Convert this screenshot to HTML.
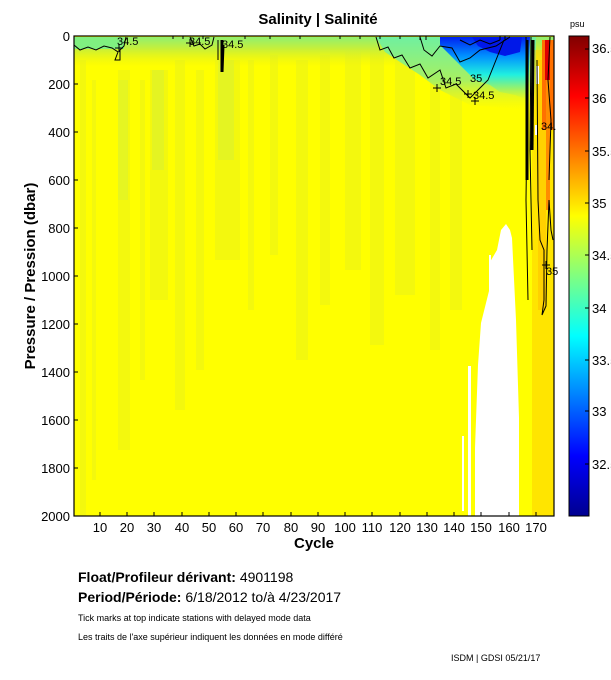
<!DOCTYPE html>
<html><head><meta charset="utf-8"><style>
body{margin:0;background:#fff;width:611px;height:675px;overflow:hidden;font-family:"Liberation Sans",sans-serif}
</style></head><body>
<svg width="611" height="675" xmlns="http://www.w3.org/2000/svg" font-family="Liberation Sans, sans-serif">
<defs>
<linearGradient id="jet" x1="0" y1="1" x2="0" y2="0">
<stop offset="0" stop-color="#00008f"/>
<stop offset="0.125" stop-color="#0000ff"/>
<stop offset="0.375" stop-color="#00ffff"/>
<stop offset="0.5" stop-color="#80ff80"/>
<stop offset="0.625" stop-color="#ffff00"/>
<stop offset="0.875" stop-color="#ff0000"/>
<stop offset="1" stop-color="#800000"/>
</linearGradient>
<linearGradient id="topg" x1="0" y1="0" x2="0" y2="1">
<stop offset="0" stop-color="#90f070"/>
<stop offset="0.4" stop-color="#c8f038"/>
<stop offset="1" stop-color="#f0f010" stop-opacity="0"/>
</linearGradient>
<linearGradient id="greeng" x1="0" y1="0" x2="0" y2="1">
<stop offset="0" stop-color="#70f0a0"/>
<stop offset="0.6" stop-color="#a8f060"/>
<stop offset="1" stop-color="#e8f020" stop-opacity="0"/>
</linearGradient>
<linearGradient id="blueg" x1="0" y1="0" x2="0" y2="1">
<stop offset="0" stop-color="#0020f0"/>
<stop offset="0.3" stop-color="#0090ff"/>
<stop offset="0.6" stop-color="#20f0e0"/>
<stop offset="1" stop-color="#90f070" stop-opacity="0"/>
</linearGradient>
</defs>
<text x="318" y="24" font-size="15" font-weight="bold" text-anchor="middle">Salinity | Salinité</text>
<rect x="74" y="36" width="480" height="480" fill="#ffff00"/>
<g fill="#e6f020" opacity="0.45">
<rect x="80" y="60" width="6" height="456"/><rect x="92" y="80" width="4" height="400"/>
<rect x="118" y="70" width="12" height="380"/><rect x="140" y="80" width="5" height="300"/>
<rect x="150" y="70" width="18" height="230"/><rect x="175" y="60" width="10" height="350"/>
<rect x="196" y="70" width="8" height="300"/><rect x="215" y="60" width="25" height="200"/>
<rect x="248" y="60" width="6" height="250"/><rect x="270" y="55" width="8" height="200"/>
<rect x="296" y="60" width="12" height="300"/><rect x="320" y="55" width="10" height="250"/>
<rect x="345" y="50" width="16" height="220"/><rect x="370" y="45" width="14" height="300"/>
<rect x="395" y="45" width="20" height="250"/><rect x="430" y="50" width="10" height="300"/>
<rect x="450" y="60" width="12" height="250"/>
</g>
<g fill="#d0f040" opacity="0.4">
<rect x="118" y="80" width="10" height="120"/><rect x="152" y="70" width="12" height="100"/>
<rect x="218" y="60" width="16" height="100"/>
</g>
<rect x="74" y="37" width="480" height="30" fill="url(#topg)"/>
<rect x="74" y="37" width="50" height="12" fill="#80f080"/>
<polygon fill="url(#greeng)" points="376,37 536,37 536,110 470,105 440,90 420,75 400,62 385,52"/>
<polygon fill="url(#blueg)" points="440,37 530,37 528,100 515,95 500,92 490,85 475,80 460,65 450,55 440,45"/>
<polygon fill="#0018e8" points="472,37 522,37 520,52 505,56 490,52 478,46"/>
<g fill="#ffcc00">
<rect x="532" y="50" width="22" height="466" opacity="0.5"/>
<rect x="538" y="60" width="8" height="250" opacity="0.8"/>
</g>
<rect x="542" y="40" width="12" height="90" fill="#ff7000"/>
<rect x="545" y="40" width="5" height="40" fill="#e00000"/>
<rect x="546" y="80" width="4" height="130" fill="#ff8c00"/>
<polygon fill="#fff" points="506,224 501,230 497,250 490,262 489,291 481,323 478,365 475,448 475,516 519,516 519,418 516,320 512,238 510,230"/>
<rect x="468" y="366" width="3" height="150" fill="#fff"/>
<rect x="462" y="436" width="2" height="75" fill="#fff"/>
<rect x="489" y="255" width="2" height="40" fill="#fff"/>
<rect x="536" y="66" width="3" height="18" fill="#fff"/>
<rect x="535" y="125" width="2" height="10" fill="#fff"/>
<g fill="none" stroke="#000" stroke-width="1">
<path d="M74,45 L80,50 88,47 96,50 104,46 112,48 118,52 115,60 120,60 120,50 124,46 126,37"/>
<path d="M190,37 L194,46 200,44 205,49 212,45 214,37"/>
<path d="M218,40 L218,60 M221,40 L221,67 M224,45 L223,72"/>
<path d="M376,37 L380,50 388,47 394,58 402,55 410,68 420,64 428,78 440,70 446,88 456,84 470,98 480,88 488,80 496,60 504,40"/>
<path d="M420,37 L424,50 432,56 440,46 452,48 460,62 470,58 480,50 496,46 510,37"/>
<path d="M460,40 L470,45 480,40 490,44 500,40"/>
<path d="M526,37 L527,120 526,200 528,300"/>
<path d="M531,37 L530,150 532,250"/>
<path d="M537,60 L538,200 540,240 544,250 544,300 542,315 546,306 547,250 549,200 551,230 553,240"/>
<path d="M550,37 L548,80 551,120 549,180"/>
</g>
<g stroke="#000" stroke-width="3"><line x1="222" y1="40" x2="222" y2="72"/><line x1="527" y1="40" x2="527" y2="180"/><line x1="533" y1="40" x2="532" y2="150"/></g>
<g font-size="11" fill="#000">
<text x="117" y="45">34.5</text><text x="189" y="45">34.5</text><text x="222" y="48">34.5</text>
<text x="440" y="85">34.5</text><text x="473" y="99">34.5</text><text x="470" y="82">35</text>
<text x="546" y="275">35</text><text x="541" y="130">34.</text>
</g>
<g stroke="#000"><path d="M433,88h8M437,84v8M464,94h8M468,90v8M471,101h8M475,97v8M115,48h8M119,44v8M186,43h8M190,39v8M542,265h8M546,261v8"/></g>
<g stroke="#000"><path d="M173,36v3M183,36v3M203,36v3M245,36v3M270,36v3M300,36v3M340,36v3M360,36v3M380,36v3M400,36v3M420,36v4M426,36v4M500,36v4M505,36v4"/></g>
<rect x="74" y="36" width="480" height="480" fill="none" stroke="#000" stroke-width="1.2"/>
<g font-size="13" text-anchor="end">
<text x="70" y="41">0</text><text x="70" y="89">200</text><text x="70" y="137">400</text><text x="70" y="185">600</text><text x="70" y="233">800</text><text x="70" y="281">1000</text><text x="70" y="329">1200</text><text x="70" y="377">1400</text><text x="70" y="425">1600</text><text x="70" y="473">1800</text><text x="70" y="521">2000</text>
</g>
<g stroke="#000"><path d="M74,84h4M74,132h4M74,180h4M74,228h4M74,276h4M74,324h4M74,372h4M74,420h4M74,468h4"/>
<path d="M100,516v-4M127,516v-4M154,516v-4M182,516v-4M209,516v-4M236,516v-4M263,516v-4M291,516v-4M318,516v-4M345,516v-4M372,516v-4M400,516v-4M427,516v-4M454,516v-4M481,516v-4M509,516v-4M536,516v-4"/></g>
<g font-size="13" text-anchor="middle">
<text x="100" y="532">10</text><text x="127" y="532">20</text><text x="154" y="532">30</text><text x="182" y="532">40</text><text x="209" y="532">50</text><text x="236" y="532">60</text><text x="263" y="532">70</text><text x="291" y="532">80</text><text x="318" y="532">90</text><text x="345" y="532">100</text><text x="372" y="532">110</text><text x="400" y="532">120</text><text x="427" y="532">130</text><text x="454" y="532">140</text><text x="481" y="532">150</text><text x="509" y="532">160</text><text x="536" y="532">170</text>
</g>
<text x="314" y="548" font-size="15" font-weight="bold" text-anchor="middle">Cycle</text>
<text transform="translate(35,276) rotate(-90)" font-size="15" font-weight="bold" text-anchor="middle">Pressure / Pression (dbar)</text>
<rect x="569" y="36" width="20" height="480" fill="url(#jet)" stroke="#000"/>
<text x="570" y="27" font-size="9">psu</text>
<g stroke="#000"><path d="M589,49h-4M589,98h-4M589,151h-4M589,203h-4M589,255h-4M589,308h-4M589,360h-4M589,411h-4M589,464h-4"/></g>
<g font-size="13">
<text x="592" y="53">36.5</text><text x="592" y="103">36</text><text x="592" y="156">35.5</text><text x="592" y="208">35</text><text x="592" y="260">34.5</text><text x="592" y="313">34</text><text x="592" y="365">33.5</text><text x="592" y="416">33</text><text x="592" y="469">32.5</text>
</g>
<text x="78" y="582" font-size="14" font-weight="bold">Float/Profileur dérivant: <tspan font-weight="normal">4901198</tspan></text>
<text x="78" y="602" font-size="14" font-weight="bold">Period/Période: <tspan font-weight="normal">6/18/2012  to/à  4/23/2017</tspan></text>
<text x="78" y="621" font-size="9">Tick marks at top indicate stations with delayed mode data</text>
<text x="78" y="640" font-size="9">Les traits de l'axe supérieur indiquent les données en mode différé</text>
<text x="451" y="661" font-size="9">ISDM | GDSI  05/21/17</text>
</svg>
</body></html>
